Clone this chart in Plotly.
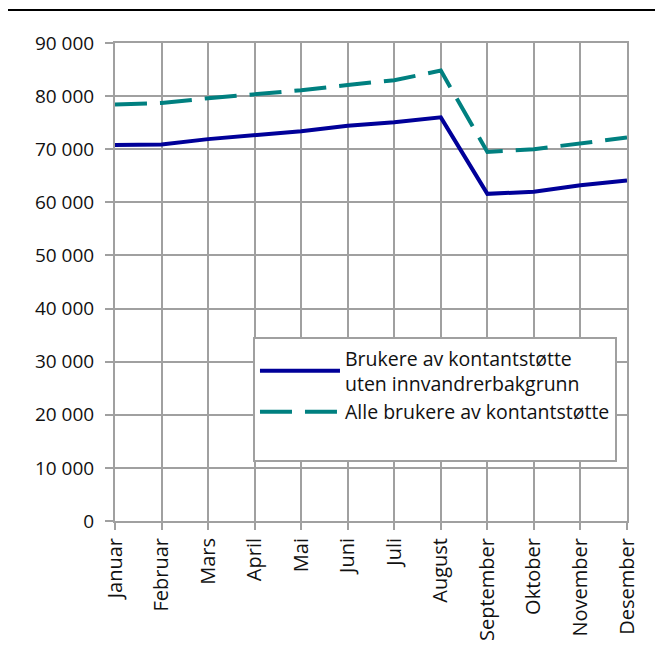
import plotly.graph_objects as go

months = ["Januar", "Februar", "Mars", "April", "Mai", "Juni", "Juli",
          "August", "September", "Oktober", "November", "Desember"]
uten_innvandrer = [70800, 70900, 71900, 72700, 73400, 74400, 75100, 76000,
                   61600, 62000, 63200, 64100]
alle_brukere = [78400, 78700, 79600, 80400, 81100, 82100, 83000, 84800,
                69500, 70000, 71100, 72200]
name_uten = "Brukere av kontantstøtte<br>uten innvandrerbakgrunn"
name_alle = "Alle brukere av kontantstøtte"

FONT = "Open Sans"
GRID = "#a0a0a0"

fig = go.Figure()
fig.add_trace(go.Scatter(x=months, y=uten_innvandrer, mode="lines", name=name_uten,
                         line=dict(color="#000099", width=4)))
fig.add_trace(go.Scatter(x=months, y=alle_brukere, mode="lines", name=name_alle,
                         line=dict(color="#008080", width=4, dash="32px,13px")))
# blank legend row to reproduce the empty space at the bottom of the legend box
fig.add_trace(go.Scatter(x=[None], y=[None], mode="lines", name=" ",
                         line=dict(color="rgba(0,0,0,0)", width=1), hoverinfo="skip"))

fig.update_layout(
    width=666, height=650,
    margin=dict(l=107, r=47, t=35, b=137),
    paper_bgcolor="white", plot_bgcolor="white",
    font=dict(family=FONT, size=19, color="#111111"),
    separators=", ",
    showlegend=True,
    legend=dict(x=0.2695, y=0.385, xanchor="left", yanchor="top",
                bgcolor="white", bordercolor=GRID, borderwidth=2,
                font=dict(family=FONT, size=19.5, color="#111111"),
                itemwidth=80,
                tracegroupgap=0, traceorder="normal"),
    shapes=[dict(type="line", xref="paper", yref="paper",
                 x0=-0.209, x1=1.0547, y0=1.069, y1=1.069,
                 line=dict(color="black", width=2))],
)
fig.update_xaxes(
    type="category", range=[0, 11],
    showgrid=True, gridcolor=GRID, gridwidth=2,
    showline=True, linecolor=GRID, linewidth=2, mirror=True,
    ticks="outside", ticklen=7, tickwidth=2, tickcolor=GRID,
    tickangle=-90, tickfont=dict(family=FONT, size=20, color="#111111"),
)
fig.update_yaxes(
    range=[0, 90000], dtick=10000, tickformat=",d",
    showgrid=True, gridcolor=GRID, gridwidth=2,
    showline=True, linecolor=GRID, linewidth=2, mirror=True,
    ticks="outside", ticklen=8, tickwidth=2, tickcolor=GRID,
    ticklabelstandoff=7,
    tickfont=dict(family=FONT, size=19, color="#111111"),
    zeroline=False,
)

fig.write_html("out.html")
